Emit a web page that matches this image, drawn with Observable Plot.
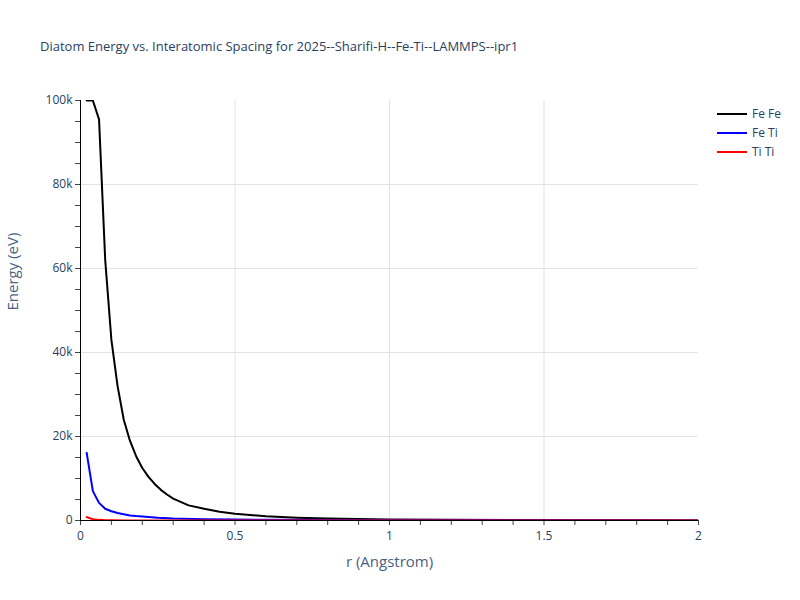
<!DOCTYPE html>
<html>
<head>
<meta charset="utf-8">
<script src="https://cdn.jsdelivr.net/npm/d3@7"></script>
<script src="https://cdn.jsdelivr.net/npm/@observablehq/plot@0.6"></script>
<style>
  html, body { margin: 0; padding: 0; background: #fff; }
  #wrap { position: relative; width: 800px; height: 600px; font-family: "Open Sans", sans-serif; }
  #title { position: absolute; left: 40px; top: 37px; font-size: 13px; color: #2a3f5f; white-space: nowrap; }
  #legend { position: absolute; left: 717px; top: 104px; font-size: 12px; color: #2a3f5f; }
  .item { display: flex; align-items: center; height: 19px; }
  .item span.sw { display: inline-block; width: 30px; height: 2px; margin-right: 5px; }
</style>
</head>
<body>
<div id="wrap">
  <div id="chart"></div>
  <div id="title">Diatom Energy vs. Interatomic Spacing for 2025--Sharifi-H--Fe-Ti--LAMMPS--ipr1</div>
  <div id="legend"></div>
</div>
<script>
const seriesNames = ["Fe Fe", "Fe Ti", "Ti Ti"];
const seriesColors = ["#000000", "#0000ff", "#ff0000"];

const rFeFe = [0.02,0.04,0.06,0.08,0.10,0.12,0.14,0.16,0.18,0.20,0.22,0.24,0.26,0.28,0.30,0.35,0.40,0.45,0.50,0.60,0.70,0.80,0.90,1.00,1.20,1.40,1.60,1.80,2.00];
const eFeFe = [100000,100000,95500,62000,43000,32000,24000,19000,15300,12500,10400,8700,7300,6200,5200,3600,2800,2100,1600,1000,650,450,330,250,150,90,55,30,15];

const rFeTi = [0.02,0.04,0.06,0.08,0.10,0.12,0.14,0.16,0.18,0.20,0.25,0.30,0.40,0.50,0.60,0.80,1.00,1.50,2.00];
const eFeTi = [16100,7000,4200,2800,2200,1800,1500,1200,1050,950,650,480,320,220,160,100,70,30,10];

const rTiTi = [0.02,0.04,0.06,0.08,0.10,0.15,0.20,0.30,0.50,1.00,1.50,2.00];
const eTiTi = [800,300,150,80,50,20,10,5,0,0,0,0];

const xTickLabels = [0, 0.5, 1, 1.5, 2];
const yTickLabels = [0, 20000, 40000, 60000, 80000, 100000];

const data = [];
[[rFeFe, eFeFe], [rFeTi, eFeTi], [rTiTi, eTiTi]].forEach(([rs, es], i) => {
  rs.forEach((r, j) => data.push({r, e: es[j], s: seriesNames[i]}));
});

const fmtY = d => d === 0 ? "0" : (d / 1000) + "k";
const fmtX = d => String(d);

const chart = Plot.plot({
  width: 800,
  height: 600,
  marginLeft: 80,
  marginRight: 102,
  marginTop: 100,
  marginBottom: 80,
  style: { fontFamily: "Open Sans, sans-serif", color: "#2a3f5f", background: "#fff" },
  x: { domain: [0, 2] },
  y: { domain: [0, 100000] },
  color: { domain: seriesNames, range: seriesColors },
  marks: [
    Plot.ruleX([0.5, 1, 1.5], { stroke: "#e3e3e3", strokeWidth: 1 }),
    Plot.ruleY([20000, 40000, 60000, 80000], { stroke: "#e3e3e3", strokeWidth: 1 }),
    Plot.axisX({ ticks: d3.range(0, 2.0001, 0.1).map(v => +v.toFixed(1)), tickSize: 5, tickPadding: 6,
      tickFormat: d => xTickLabels.includes(d) ? fmtX(d) : "", fontSize: 12, stroke: "#444", label: null }),
    Plot.axisY({ ticks: d3.range(0, 100001, 5000), tickSize: 5, tickPadding: 3,
      tickFormat: d => yTickLabels.includes(d) ? fmtY(d) : "", fontSize: 12, stroke: "#444", label: null }),
    Plot.line(data, { x: "r", y: "e", z: "s", stroke: "s", strokeWidth: 2, clip: true, curve: "linear" }),
    Plot.ruleX([0], { stroke: "#000", strokeWidth: 1 }),
    Plot.ruleY([0], { stroke: "#000", strokeWidth: 1 }),
    Plot.text(["r (Angstrom)"], { frameAnchor: "bottom", dy: 46, fontSize: 15, fill: "#4a5f7f" }),
    Plot.text(["Energy (eV)"], { frameAnchor: "left", dx: -67, rotate: -90, fontSize: 15, fill: "#4a5f7f" })
  ]
});
document.getElementById("chart").appendChild(chart);

const legend = document.getElementById("legend");
seriesNames.forEach((n, i) => {
  const d = document.createElement("div");
  d.className = "item";
  d.innerHTML = `<span class="sw" style="background:${seriesColors[i]}"></span><span>${n}</span>`;
  legend.appendChild(d);
});
</script>
</body>
</html>
